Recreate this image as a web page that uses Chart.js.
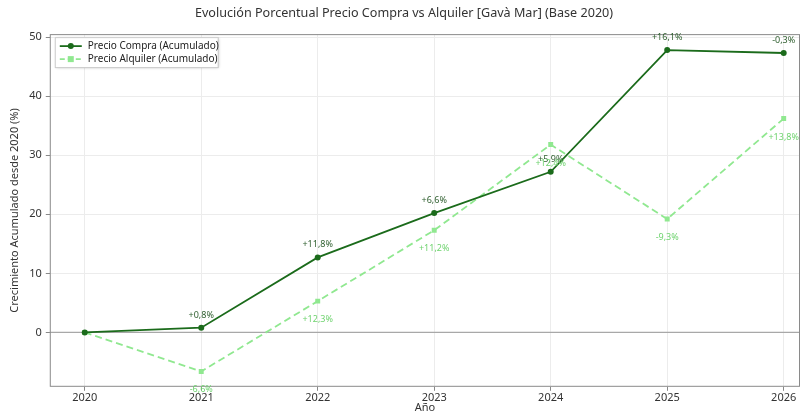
<!DOCTYPE html>
<html>
<head>
<meta charset="utf-8">
<script src="https://cdn.jsdelivr.net/npm/chart.js@4.4.0/dist/chart.umd.min.js"></script>
<style>
  html, body { margin: 0; padding: 0; background: #fff; }
  #wrap { width: 812px; height: 412px; }
</style>
</head>
<body>
<div id="wrap"><canvas id="c" width="812" height="412"></canvas></div>
<script>
const years = [2020, 2021, 2022, 2023, 2024, 2025, 2026];
const compra = [0, 0.8, 12.7, 20.2, 27.2, 47.8, 47.3];
const alquiler = [0, -6.6, 5.3, 17.3, 31.8, 19.2, 36.2];
const compraLabels = [null, "+0,8%", "+11,8%", "+6,6%", "+5,9%", "+16,1%", "-0,3%"];
const alquilerLabels = [null, "-6,6%", "+12,3%", "+11,2%", "+12,4%", "-9,3%", "+13,8%"];
const yTicks = [0, 10, 20, 30, 40, 50];

const FONT = "'Noto Sans', sans-serif";
const DARK = "#1b6b1b";
const LIGHT = "#90e890";

// box, zero line, point labels, legend, x title
const extras = {
  id: "extras",
  beforeDatasetsDraw(chart) {
    const { ctx, chartArea: a, scales } = chart;
    const y0 = scales.y.getPixelForValue(0);
    ctx.save();
    ctx.strokeStyle = "#a8a8a8";
    ctx.lineWidth = 1.2;
    ctx.beginPath();
    ctx.moveTo(a.left, y0);
    ctx.lineTo(a.right, y0);
    ctx.stroke();
    ctx.restore();
  },
  afterDatasetsDraw(chart) {
    const { ctx, chartArea: a, scales } = chart;
    ctx.save();
    ctx.strokeStyle = "#8a8a8a";
    ctx.lineWidth = 1;
    ctx.strokeRect(a.left + 0.5, a.top + 0.5, a.right - a.left - 1, a.bottom - a.top - 1);

    ctx.font = "9px " + FONT;
    ctx.textAlign = "center";
    years.forEach((yr, i) => {
      const x = scales.x.getPixelForValue(yr);
      if (compraLabels[i]) {
        ctx.fillStyle = "#2f5f2f";
        ctx.fillText(compraLabels[i], x, scales.y.getPixelForValue(compra[i]) - 10);
      }
      if (alquilerLabels[i]) {
        ctx.fillStyle = "#6fd36f";
        ctx.fillText(alquilerLabels[i], x, scales.y.getPixelForValue(alquiler[i]) + 21);
      }
    });

    // x axis title, tucked close to the tick labels
    ctx.fillStyle = "#333";
    ctx.font = "11px " + FONT;
    ctx.textBaseline = "alphabetic";
    ctx.fillText("Año", (a.left + a.right) / 2, 411);

    // legend
    const lx = a.left + 5, ly = a.top + 3, lw = 163, lh = 30;
    ctx.shadowColor = "rgba(0,0,0,0.25)";
    ctx.shadowBlur = 3;
    ctx.shadowOffsetX = 1;
    ctx.shadowOffsetY = 1;
    ctx.fillStyle = "#fff";
    ctx.fillRect(lx, ly, lw, lh);
    ctx.shadowColor = "transparent";
    ctx.strokeStyle = "#cccccc";
    ctx.strokeRect(lx + 0.5, ly + 0.5, lw, lh);
    const items = [
      { text: "Precio Compra (Acumulado)", color: DARK, dash: [], square: false },
      { text: "Precio Alquiler (Acumulado)", color: LIGHT, dash: [5, 3], square: true }
    ];
    items.forEach((it, k) => {
      const cy = ly + 9 + k * 13;
      ctx.strokeStyle = it.color;
      ctx.lineWidth = 1.8;
      ctx.setLineDash(it.dash);
      ctx.beginPath();
      ctx.moveTo(lx + 5, cy);
      ctx.lineTo(lx + 27, cy);
      ctx.stroke();
      ctx.setLineDash([]);
      ctx.fillStyle = it.color;
      if (it.square) ctx.fillRect(lx + 13, cy - 3, 6, 6);
      else { ctx.beginPath(); ctx.arc(lx + 16, cy, 3, 0, Math.PI * 2); ctx.fill(); }
      ctx.fillStyle = "#222";
      ctx.textAlign = "left";
      ctx.textBaseline = "middle";
      ctx.font = "10px " + FONT;
      ctx.fillText(it.text, lx + 33, cy + 0.5);
    });
    ctx.restore();
  }
};

new Chart(document.getElementById("c"), {
  type: "line",
  data: {
    datasets: [
      {
        label: "Precio Compra (Acumulado)",
        data: years.map((x, i) => ({ x, y: compra[i] })),
        borderColor: DARK, backgroundColor: DARK,
        borderWidth: 1.8, pointRadius: 3, pointBorderWidth: 0, pointStyle: "circle", tension: 0
      },
      {
        label: "Precio Alquiler (Acumulado)",
        data: years.map((x, i) => ({ x, y: alquiler[i] })),
        borderColor: LIGHT, backgroundColor: LIGHT,
        borderWidth: 1.8, borderDash: [7, 4], pointRadius: 3.5, pointBorderWidth: 0, pointStyle: "rect", tension: 0
      }
    ]
  },
  options: {
    responsive: false,
    animation: false,
    layout: { padding: { left: 8, right: 12, top: 4, bottom: 8 } },
    plugins: {
      legend: { display: false },
      tooltip: { enabled: false },
      title: {
        display: true,
        text: "Evolución Porcentual Precio Compra vs Alquiler [Gavà Mar] (Base 2020)",
        color: "#333", font: { family: FONT, size: 12.6, weight: "normal" },
        padding: { top: 2, bottom: 13 }
      }
    },
    scales: {
      x: {
        type: "linear", min: 2019.7, max: 2026.14,
        afterBuildTicks: (s) => { s.ticks = years.map(v => ({ value: v })); },
        ticks: { color: "#333", font: { family: FONT, size: 11 }, callback: v => String(v), padding: 0 },
        grid: { color: "#ececec", tickColor: "#888", tickLength: 4 },
        border: { display: false }
      },
      y: {
        min: -9.2, max: 50.5,
        afterBuildTicks: (s) => { s.ticks = yTicks.map(v => ({ value: v })); },
        ticks: { color: "#333", font: { family: FONT, size: 11 }, padding: 4 },
        grid: { color: "#ececec", tickColor: "#888", tickLength: 4 },
        border: { display: false },
        title: { display: true, text: "Crecimiento Acumulado desde 2020 (%)", color: "#333", font: { family: FONT, size: 11 }, padding: { top: 0, bottom: 4 } }
      }
    }
  },
  plugins: [extras]
});
</script>
</body>
</html>
